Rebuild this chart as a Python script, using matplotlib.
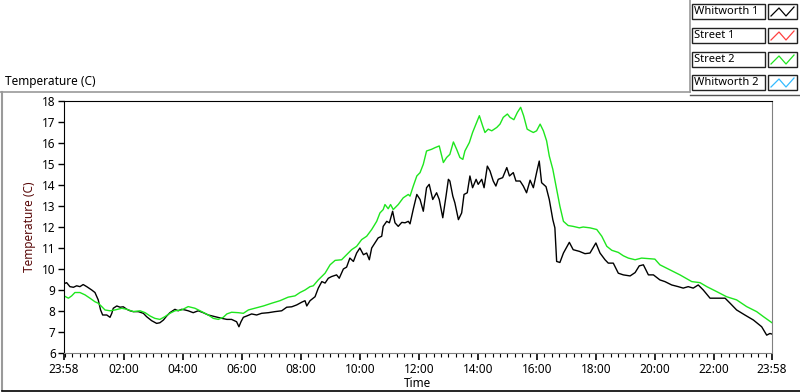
import matplotlib
matplotlib.use('Agg')
import matplotlib.pyplot as plt
from matplotlib.patches import Rectangle
from matplotlib.lines import Line2D
import numpy as np

plt.rcParams['font.family'] = ['Noto Sans', 'DejaVu Sans']

# hours after 23:58 and temperature (C)
whit1_t = [0.0, 0.09, 0.20, 0.32, 0.43, 0.54, 0.65, 0.77, 0.94, 1.05, 1.16, 1.24, 1.31, 1.45, 1.56,
           1.62, 1.67, 1.79, 1.90, 2.01, 2.13, 2.24, 2.35, 2.52, 2.69, 2.80, 2.97, 3.14, 3.25, 3.37,
           3.48, 3.59, 3.76, 3.87, 3.99, 4.10, 4.21, 4.38, 4.55, 4.72, 4.89, 5.12, 5.35, 5.52, 5.68,
           5.85, 5.93, 6.00, 6.08, 6.19, 6.36, 6.53, 6.70, 6.93, 7.15, 7.38, 7.55, 7.72, 7.89, 8.06,
           8.17, 8.23, 8.34, 8.51, 8.62, 8.74, 8.85, 8.96, 9.07, 9.24, 9.33, 9.47, 9.58, 9.69, 9.81,
           9.92, 10.03, 10.15, 10.26, 10.35, 10.43, 10.54, 10.65, 10.77, 10.82, 10.94, 11.03, 11.14,
           11.22, 11.33, 11.45, 11.56, 11.67, 11.73, 11.84, 11.96, 12.07, 12.18, 12.29, 12.38, 12.50,
           12.63, 12.72, 12.84, 12.95, 13.03, 13.08, 13.18, 13.25, 13.37, 13.48, 13.56, 13.67, 13.76,
           13.85, 13.97, 14.04, 14.16, 14.24, 14.35, 14.44, 14.55, 14.64, 14.72, 14.87, 15.01, 15.10,
           15.23, 15.32, 15.46, 15.57, 15.68, 15.80, 15.91, 16.02, 16.11, 16.19, 16.34, 16.45, 16.57,
           16.64, 16.70, 16.81, 16.93, 17.13, 17.26, 17.47, 17.66, 17.83, 18.03, 18.17, 18.34, 18.45,
           18.62, 18.79, 18.96, 19.19, 19.36, 19.50, 19.64, 19.81, 19.98, 20.20, 20.37, 20.60, 20.82,
           20.99, 21.16, 21.33, 21.50, 21.67, 21.90, 22.13, 22.41, 22.58, 22.80, 23.08, 23.37, 23.65,
           23.82, 23.93, 24.0]
whit1_v = [9.30, 9.35, 9.16, 9.13, 9.20, 9.16, 9.26, 9.16, 9.00, 8.88, 8.53, 8.05, 7.81, 7.81, 7.70,
           7.89, 8.13, 8.24, 8.18, 8.20, 8.08, 8.01, 7.97, 7.97, 7.89, 7.73, 7.54, 7.41, 7.44, 7.57,
           7.76, 7.92, 8.08, 8.01, 8.08, 8.05, 8.01, 7.92, 8.01, 7.92, 7.81, 7.73, 7.65, 7.60, 7.60,
           7.49, 7.25, 7.49, 7.70, 7.76, 7.86, 7.81, 7.89, 7.92, 7.97, 8.01, 8.18, 8.20, 8.29, 8.42,
           8.49, 8.24, 8.49, 8.68, 9.09, 9.40, 9.33, 9.56, 9.64, 9.72, 9.56, 10.00, 10.09, 10.52, 10.36,
           10.76, 11.00, 10.68, 10.76, 10.44, 11.00, 11.24, 11.48, 11.56, 12.03, 12.27, 12.20, 12.75,
           12.20, 12.03, 12.22, 12.20, 12.27, 12.15, 12.85, 13.55, 13.31, 12.75, 13.87, 14.03, 13.31,
           13.63, 13.31, 12.44, 13.47, 14.27, 14.19, 13.47, 13.15, 12.35, 12.67, 13.55, 13.63, 14.43,
           13.87, 14.27, 14.03, 14.27, 13.87, 14.90, 14.67, 14.19, 13.95, 14.27, 14.35, 14.83, 14.43,
           14.59, 14.19, 14.19, 13.95, 13.63, 14.23, 13.87, 14.59, 15.14, 14.11, 13.92, 13.31, 12.35,
           11.96, 10.36, 10.31, 10.76, 11.27, 10.92, 10.84, 10.73, 10.76, 11.24, 10.76, 10.44, 10.28,
           10.28, 9.80, 9.72, 9.67, 9.83, 10.15, 10.20, 9.72, 9.72, 9.48, 9.40, 9.24, 9.16,
           9.09, 9.16, 9.09, 9.24, 9.00, 8.61, 8.61, 8.61, 8.37, 8.05, 7.81, 7.57, 7.25,
           6.85, 6.93, 6.90]

street2_t = [0.0, 0.15, 0.26, 0.37, 0.54, 0.71, 0.88, 1.05, 1.16, 1.28, 1.39, 1.56, 1.73, 1.96, 2.13,
             2.35, 2.58, 2.75, 2.92, 3.08, 3.25, 3.42, 3.59, 3.76, 3.99, 4.21, 4.44, 4.67, 4.89, 5.06,
             5.23, 5.40, 5.52, 5.68, 5.91, 6.08, 6.25, 6.47, 6.76, 7.04, 7.32, 7.60, 7.83, 8.00, 8.17,
             8.34, 8.45, 8.62, 8.85, 9.02, 9.19, 9.41, 9.58, 9.75, 9.92, 10.09, 10.26, 10.43, 10.60,
             10.71, 10.82, 10.88, 10.99, 11.07, 11.16, 11.33, 11.50, 11.67, 11.73, 11.84, 11.96, 12.07,
             12.18, 12.29, 12.46, 12.58, 12.72, 12.86, 12.97, 13.08, 13.20, 13.31, 13.42, 13.52, 13.59,
             13.74, 13.85, 13.99, 14.08, 14.19, 14.27, 14.38, 14.50, 14.67, 14.78, 14.89, 15.03, 15.12,
             15.25, 15.37, 15.48, 15.58, 15.70, 15.80, 15.91, 16.02, 16.14, 16.25, 16.36, 16.45, 16.57,
             16.70, 16.81, 16.93, 17.09, 17.26, 17.47, 17.60, 17.83, 18.06, 18.23, 18.40, 18.57, 18.79,
             18.96, 19.13, 19.36, 19.58, 20.03, 20.20, 20.54, 20.88, 21.28, 21.56, 21.79, 22.13, 22.46,
             22.80, 23.14, 23.48, 23.71, 24.0]
street2_v = [8.72, 8.61, 8.72, 8.88, 8.88, 8.77, 8.61, 8.44, 8.37, 8.21, 8.05, 8.01, 8.05, 8.13, 8.08,
             7.97, 8.01, 7.92, 7.76, 7.65, 7.60, 7.73, 7.89, 8.01, 8.05, 8.21, 8.13, 7.97, 7.81, 7.65,
             7.60, 7.70, 7.86, 7.94, 7.92, 7.89, 8.05, 8.13, 8.24, 8.37, 8.49, 8.66, 8.72, 8.88, 9.00,
             9.16, 9.20, 9.48, 9.80, 10.20, 10.41, 10.44, 10.68, 10.92, 11.08, 11.40, 11.56, 11.88, 12.27,
             12.67, 12.83, 13.07, 12.87, 13.07, 12.83, 13.07, 13.39, 13.55, 13.47, 13.95, 14.43, 14.59,
             14.99, 15.62, 15.70, 15.78, 15.86, 15.07, 15.31, 15.46, 16.05, 15.70, 15.31, 15.22, 15.62,
             16.02, 16.50, 16.98, 17.30, 16.82, 16.50, 16.66, 16.58, 16.74, 16.90, 17.22, 17.38, 17.22,
             17.11, 17.46, 17.70, 17.30, 16.66, 16.58, 16.50, 16.58, 16.90, 16.58, 16.10, 15.38, 14.75,
             13.79, 12.99, 12.27, 12.07, 12.03, 11.96, 12.00, 11.96, 11.88, 11.56, 11.08, 10.89, 10.79,
             10.63, 10.52, 10.44, 10.52, 10.47, 10.20, 9.96, 9.72, 9.40, 9.35, 9.16, 8.92, 8.68,
             8.53, 8.21, 7.97, 7.73, 7.44]

legend_names = ['Whitworth 1', 'Street 1', 'Street 2', 'Whitworth 2']
legend_colors = ['black', '#ff4040', '#1ee61e', '#33bbff']

x_labels = ['23:58', '02:00', '04:00', '06:00', '08:00', '10:00', '12:00',
            '14:00', '16:00', '18:00', '20:00', '22:00', '23:58']

W, H = 800, 392
fig = plt.figure(figsize=(W / 100, H / 100), dpi=100)


def fx(px):
    return px / W


def fy(py):
    return 1 - py / H


# outer frame
gray = '#9a9a9a'
fig.add_artist(Line2D([fx(0), fx(690)], [fy(92), fy(92)], color=gray, lw=1.2))
fig.add_artist(Line2D([fx(690), fx(690)], [fy(0), fy(92)], color=gray, lw=1.2))
fig.add_artist(Line2D([fx(690), fx(800)], [fy(95), fy(95)], color='#555555', lw=1.0))
fig.add_artist(Line2D([fx(2), fx(2)], [fy(92), fy(390)], color=gray, lw=1.5))
fig.add_artist(Line2D([fx(2), fx(800)], [fy(390.5), fy(390.5)], color='black', lw=1.2))
fig.text(fx(5), fy(82), 'Temperature (C)', fontsize=8.5, va='center', ha='left')

ax = fig.add_axes([fx(64), fy(353), fx(772) - fx(64), fy(101) - fy(353)])
ax.plot(whit1_t, whit1_v, color=legend_colors[0], lw=1.0)
ax.plot(street2_t, street2_v, color=legend_colors[2], lw=1.0)

ax.set_xlim(0, 24)
ax.set_ylim(6, 18)
ax.set_yticks(range(6, 19))
ax.tick_params(axis='y', labelsize=8.5, length=4, width=1, pad=2)

start = 23 * 60 + 58
xt = []
for i, lab in enumerate(x_labels):
    hh, mm = lab.split(':')
    m = (int(hh) * 60 + int(mm) - start) % 1440
    if i == len(x_labels) - 1:
        m = 1440
    xt.append(m / 60)
ax.set_xticks(xt)
ax.set_xticklabels(x_labels)
minor = [((k * 15 + 2) / 60) for k in range(0, 96) if (k * 15 + 2) / 60 < 24]
ax.set_xticks(minor, minor=True)
ax.tick_params(axis='x', which='major', labelsize=8.5, length=5, width=1.2, pad=2)
ax.tick_params(axis='x', which='minor', length=3, width=0.8)

ax.spines['left'].set_color('black')
ax.spines['top'].set_color('black')
ax.spines['right'].set_color('#808080')
ax.spines['bottom'].set_color('#808080')
ax.set_xlabel('Time', fontsize=8.5, labelpad=1)
ax.set_ylabel('Temperature (C)', fontsize=8.5, color='#5a0a0a', labelpad=4)

# legend boxes
row_top = [4, 28, 52, 75]
for name, col, ty in zip(legend_names, legend_colors, row_top):
    fig.add_artist(Rectangle((fx(692), fy(ty + 15)), fx(765) - fx(692), fy(ty) - fy(ty + 15),
                             fill=False, ec='#222222', lw=1))
    fig.text(fx(694), fy(ty + 7.5), name, fontsize=8, va='center', ha='left')
    fig.add_artist(Rectangle((fx(768), fy(ty + 15)), fx(797) - fx(768), fy(ty) - fy(ty + 15),
                             fill=False, ec='#222222', lw=1))
    zx = [fx(771), fx(779), fx(786), fx(794)]
    zy = [fy(ty + 12), fy(ty + 4), fy(ty + 12), fy(ty + 3)]
    fig.add_artist(Line2D(zx, zy, color=col, lw=0.9))

fig.savefig('out.png', dpi=100)
